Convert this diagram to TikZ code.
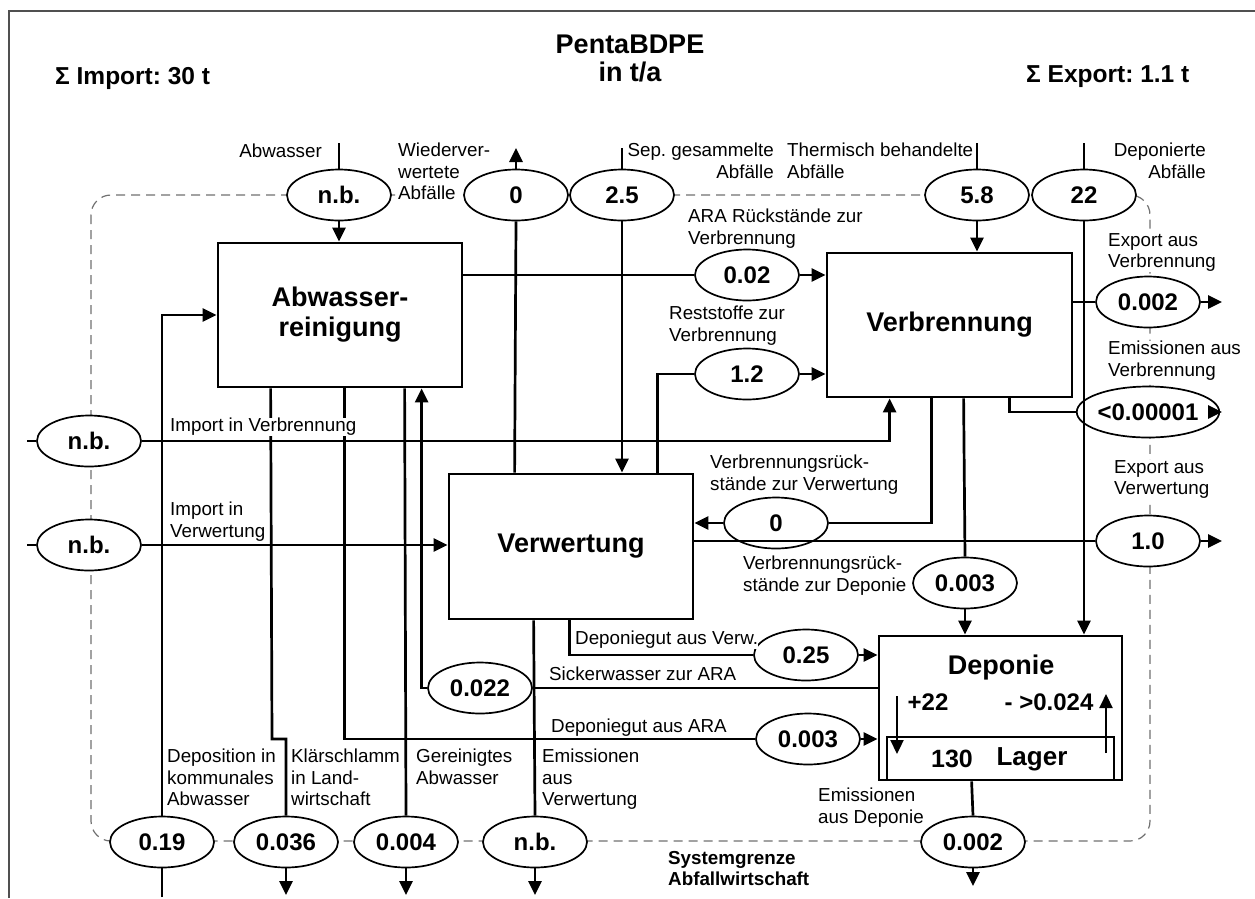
\documentclass[tikz,border=0pt]{standalone}
\usepackage{fontspec}
\setmainfont{Liberation Sans}
\usetikzlibrary{shapes.geometric,arrows.meta,calc}
\definecolor{framegray}{HTML}{505050}
\definecolor{bordergray}{HTML}{707070}
\frenchspacing
\begin{document}
\begin{tikzpicture}[x=1pt,y=-1pt,
  flow/.style={line width=2.7pt},
  arr/.style={flow,-{Triangle[length=14pt,width=13pt]}},
  proc/.style={draw,line width=2.8pt,fill=white,inner sep=0pt,align=center,
    font=\fontsize{27}{30}\selectfont\bfseries},
  val/.style={ellipse,draw,line width=1.7pt,fill=white,minimum width=104pt,
    minimum height=51pt,inner sep=0pt,font=\fontsize{24}{26}\selectfont\bfseries},
  lbl/.style={inner sep=0pt,fill=white,font=\fontsize{18.8}{21.5}\selectfont,
    align=left,anchor=north west},
  lblr/.style={lbl,align=right,anchor=north east},
  ttl/.style={inner sep=0pt,font=\fontsize{27}{30}\selectfont\bfseries},
  sumttl/.style={inner sep=0pt,anchor=west,font=\fontsize{24.5}{27}\selectfont\bfseries},
  num/.style={inner sep=0pt,font=\fontsize{24}{26}\selectfont\bfseries},
  boundary/.style={draw=bordergray,line width=1.2pt,dash pattern=on 9pt off 6pt,
    rounded corners=20pt}
]
\useasboundingbox (0,0) rectangle (1255,898);

% page frame
\draw[framegray,line width=1.3pt] (9,898) -- (9,11) -- (1255,11);

% system boundary of the waste management system
\draw[boundary] (91,195) rectangle (1150,841);

% titles
\node[ttl] (title) at (630,44) {PentaBDPE};
\node[ttl] (unit) at (630,72) {in t/a};
\node[sumttl] (sumimp) at (55,78) {Σ Import: 30 t};
\node[sumttl] (sumexp) at (1026,77) {Σ Export: 1.1 t};

% processes
\node[proc,minimum width=244pt,minimum height=144pt] (ARA) at (340,315) {Abwasser-\\reinigung};
\node[proc,minimum width=245pt,minimum height=144pt] (VB) at (949.5,325) {Verbrennung};
\node[proc,minimum width=244pt,minimum height=145pt] (VW) at (571,546.5) {Verwertung};
\node[proc,minimum width=243pt,minimum height=144pt] (DP) at (1000.5,708) {};
\node[draw,line width=2.2pt,minimum width=227pt,minimum height=43pt,inner sep=0pt] (LG) at (1000.5,758.5) {};
\node[ttl] (dptxt) at (1001,668) {Deponie};
\node[num] (dpin) at (928,702) {+22};
\node[num] (dpout) at (1049,702) {- >0.024};
\node[num,font=\fontsize{25}{27}\selectfont\bfseries] (lgval) at (952,759) {130};
\node[ttl,font=\fontsize{26}{28}\selectfont\bfseries] (lgtxt) at (1032,759) {Lager};
\draw[arr,line width=2.2pt] (897,696) -- (897,754);
\draw[arr,line width=2.2pt] (1106,753) -- (1106,694);

% label that sits on the boundary, under the value ellipses
\node[lbl] (tWv) at (398,143) {Wiederver-\\wertete\\Abfälle};

% flow values
\node[val] (nbA) at (339,195) {n.b.};
\node[val] (e0a) at (516,195) {0};
\node[val] (e25) at (622,195) {2.5};
\node[val] (e58) at (977,195) {5.8};
\node[val] (e22) at (1084,195) {22};
\node[val] (e002a) at (747,275) {0.02};
\node[val] (e12) at (747,374) {1.2};
\node[val] (nbL1) at (89,441) {n.b.};
\node[val] (nbL2) at (89,545) {n.b.};
\node[val] (e0b) at (776,523) {0};
\node[val] (e003a) at (965,583) {0.003};
\node[val] (e025) at (806,655) {0.25};
\node[val] (e022) at (480,688) {0.022};
\node[val] (e003b) at (808,739) {0.003};
\node[val] (e002b) at (1148,302) {0.002};
\node[val] (e00001) at (1148,412) {<0.00001};
\node[val] (e10) at (1148,541) {1.0};
\node[val] (e019) at (162,842) {0.19};
\node[val] (e036) at (286,842) {0.036};
\node[val] (e004) at (406,842) {0.004};
\node[val] (enb) at (535,842) {n.b.};
\node[val] (e002c) at (973,842) {0.002};

% free ends of the flows
\coordinate (cAbw) at (339,143);
\coordinate (cWv) at (516,148);
\coordinate (cSep) at (622,148);
\coordinate (cTh) at (977,143);
\coordinate (cDep) at (1084,143);
\coordinate (cIn1) at (27,441);
\coordinate (cIn2) at (27,545);
\coordinate (cDepo) at (162,897);
\coordinate (cKs) at (286,895);
\coordinate (cGa) at (406,895);
\coordinate (cEv) at (535,895);
\coordinate (cEm) at (1222,412);
\coordinate (cEx1) at (1222,302);
\coordinate (cEx2) at (1222,541);
\coordinate (cEd) at (973,886);

% flows
\draw[flow] (cAbw) -- (nbA.north);
\draw[arr] (nbA.south) -- (nbA.south |- ARA.north);

\draw[flow] ([xshift=67pt]VW.north west) -- (e0a.south);
\draw[arr] (e0a.north) -- (cWv);

\draw[flow] (cSep) -- (e25.north);
\draw[arr] (e25.south) -- (e25.south |- VW.north);

\draw[flow] (cTh) -- (e58.north);
\draw[arr] (e58.south) -- (e58.south |- VB.north);

\draw[flow] (cDep) -- (e22.north);
\draw[arr] (e22.south) -- (e22.south |- DP.north);

\draw[flow] (ARA.east |- e002a.west) -- (e002a.west);
\draw[arr] (e002a.east) -- (e002a.east -| VB.west);

\draw[flow] ([xshift=210pt]VW.north west) |- (e12.west);
\draw[arr] (e12.east) -- (e12.east -| VB.west);

\draw[flow] (cIn1) -- (nbL1.west);
\draw[arr] (nbL1.east) -| ([xshift=64pt]VB.south west);

\draw[flow] (cIn2) -- (nbL2.west);
\draw[arr] (nbL2.east) -- (nbL2.east -| VW.west);

\draw[flow] (cDepo) -- (e019.south);
\draw[arr] (e019.north) |- (ARA.west);

\draw[flow] ([xshift=54pt]ARA.south west) -- (272,739) -- (286,739) -- (e036.north);
\draw[arr] (e036.south) -- (cKs);

\draw[flow] ([xshift=128pt]ARA.south west) |- (e003b.west);
\draw[arr] (e003b.east) -- (e003b.east -| DP.west);

\draw[flow] ([xshift=188pt]ARA.south west) -- (e004.north);
\draw[arr] (e004.south) -- (cGa);

\draw[flow] (e022.east -| DP.west) -- (e022.east);
\draw[arr] (e022.west) -| ([xshift=205pt]ARA.south west);

\draw[flow] ([xshift=86pt]VW.south west) -- (enb.north);
\draw[arr] (enb.south) -- (cEv);

\draw[flow] ([xshift=122pt]VW.south west) |- (e025.west);
\draw[arr] (e025.east) -- (e025.east -| DP.west);

\draw[flow] ([xshift=106pt]VB.south west) |- (e0b.east);
\draw[arr] (e0b.west) -- (e0b.west -| VW.east);

\draw[flow] ([xshift=138pt]VB.south west) -- (e003a.north);
\draw[arr] (e003a.south) -- (e003a.south |- DP.north);

\draw[flow] ([xshift=184pt]VB.south west) |- (e00001.west);
\draw[arr] (e00001.east) -- (cEm);

\draw[flow] (VB.east |- e002b.west) -- (e002b.west);
\draw[arr] (e002b.east) -- (cEx1);

\draw[flow] (VW.east |- e10.west) -- (e10.west);
\draw[arr] (e10.east) -- (cEx2);

\draw[flow] ([xshift=94pt]DP.south west) -- (e002c.north);
\draw[arr] (e002c.south) -- (cEd);

% flow labels
\node[lblr,fill=none] (tAbw) at (322,144) {Abwasser};
\node[lblr,fill=none] (tSep) at (774,143) {Sep. gesammelte\\Abfälle};
\node[lbl,fill=none] (tTh) at (787,143) {Thermisch behandelte\\Abfälle};
\node[lblr,fill=none] (tDep) at (1206,143) {Deponierte\\Abfälle};
\node[lbl] (tAraVb) at (688,209) {ARA Rückstände zur\\Verbrennung};
\node[lbl] (tRest) at (669,306) {Reststoffe zur\\Verbrennung};
\node[lbl] (tExVb) at (1108,233) {Export aus\\Verbrennung};
\node[lbl] (tEmVb) at (1108,341) {Emissionen aus\\Verbrennung};
\node[lbl] (tImVb) at (170,418) {Import in Verbrennung};
\node[lbl] (tImVw) at (170,502) {Import in\\Verwertung};
\node[lbl] (tRueVw) at (710,455) {Verbrennungsrück-\\stände zur Verwertung};
\node[lbl] (tExVw) at (1114,460) {Export aus\\Verwertung};
\node[lbl] (tRueDp) at (743,556) {Verbrennungsrück-\\stände zur Deponie};
\node[lbl] (tDgVw) at (575,631) {Deponiegut aus Verw.};
\node[lbl] (tSick) at (549,667) {Sickerwasser zur ARA};
\node[lbl] (tDgAra) at (551,719) {Deponiegut aus ARA};
\node[lbl] (tDepo) at (167,749) {Deposition in\\kommunales\\Abwasser};
\node[lbl] (tKs) at (291,749) {Klärschlamm\\in Land-\\wirtschaft};
\node[lbl] (tGa) at (416,749) {Gereinigtes\\Abwasser};
\node[lbl] (tEmVw) at (542,749) {Emissionen\\aus\\Verwertung};
\node[lbl] (tEmDp) at (818,788) {Emissionen\\aus Deponie};
\node[lbl,font=\fontsize{18.8}{21.5}\selectfont\bfseries] (tSys) at (668,851) {Systemgrenze\\Abfallwirtschaft};
\end{tikzpicture}
\end{document}
